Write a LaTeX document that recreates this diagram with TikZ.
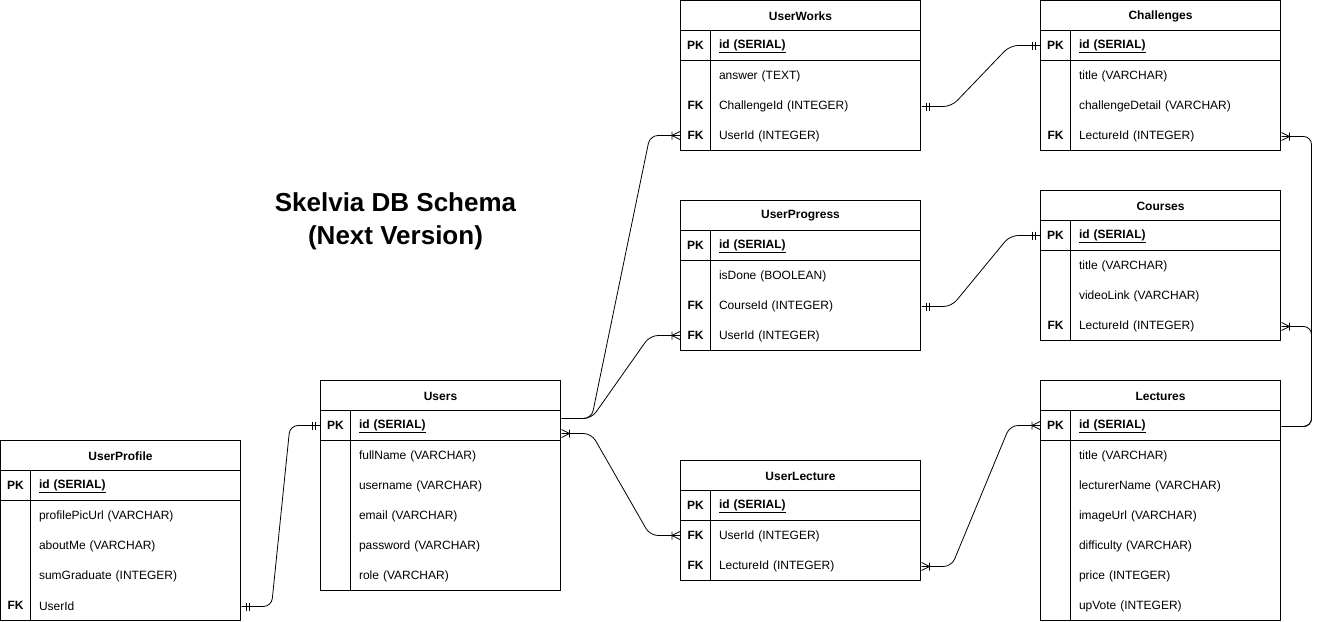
\documentclass[12pt,tikz,border=0pt]{standalone}
\usepackage{fontspec}
\setmainfont{Liberation Sans}
\pgfdeclarelayer{bg}
\pgfsetlayers{bg,main}
\tikzset{
    onemark/.pic={\draw (-5,-4) -- (-5,4) (-8,-4) -- (-8,4);},
    manymark/.pic={\draw (-8,0) -- (0,-4) (-8,0) -- (0,4) (-8,-4) -- (-8,4);}
}

\begin{document}
\begin{tikzpicture}[x=1pt, y=-1pt, line width=1pt,
    head/.style={font=\bfseries, inner sep=0pt, yshift=-0.5pt},
    key/.style={minimum width=30pt, minimum height=30pt, inner sep=0pt, font=\bfseries},
    field/.style={anchor=west, text width=202pt, minimum height=30pt, inner sep=0pt, align=left, yshift=-1pt},
    er/.style={line width=0.8pt, rounded corners=8pt}]
    \useasboundingbox (-0.5,-0.5) rectangle (1318.5,620.5);

    \node (title) [align=center, font=\bfseries\fontsize{26}{33}\selectfont] at (395,221) {Skelvia DB Schema\\(Next Version)};

    % UserWorks
    \draw (680,0) rectangle (920,150) (680,30) -- (920,30) (680,60) -- (920,60) (710,30) -- (710,150);
    \node (uw) [head] at (800,15) {UserWorks};
    \node (uwIdK) [key] at (695,45) {PK};
    \node (uwId) [field] at (718,45) {\underline{\textbf{id (SERIAL)}}};
    \node (uwAnswer) [field] at (718,75) {answer (TEXT)};
    \node (uwChalK) [key] at (695,105) {FK};
    \node (uwChal) [field] at (718,105) {ChallengeId (INTEGER)};
    \node (uwUserK) [key] at (695,135) {FK};
    \node (uwUser) [field] at (718,135) {UserId (INTEGER)};

    % Challenges
    \draw (1040,0) rectangle (1280,150) (1040,30) -- (1280,30) (1040,60) -- (1280,60) (1070,30) -- (1070,150);
    \node (ch) [head] at (1160,15) {Challenges};
    \node (chIdK) [key] at (1055,45) {PK};
    \node (chId) [field] at (1078,45) {\underline{\textbf{id (SERIAL)}}};
    \node (chTitle) [field] at (1078,75) {title (VARCHAR)};
    \node (chDetail) [field] at (1078,105) {challengeDetail (VARCHAR)};
    \node (chLectureK) [key] at (1055,135) {FK};
    \node (chLecture) [field] at (1078,135) {LectureId (INTEGER)};

    % UserProgress
    \draw (680,200) rectangle (920,350) (680,230) -- (920,230) (680,260) -- (920,260) (710,230) -- (710,350);
    \node (up) [head] at (800,215) {UserProgress};
    \node (upIdK) [key] at (695,245) {PK};
    \node (upId) [field] at (718,245) {\underline{\textbf{id (SERIAL)}}};
    \node (upDone) [field] at (718,275) {isDone (BOOLEAN)};
    \node (upCourseK) [key] at (695,305) {FK};
    \node (upCourse) [field] at (718,305) {CourseId (INTEGER)};
    \node (upUserK) [key] at (695,335) {FK};
    \node (upUser) [field] at (718,335) {UserId (INTEGER)};

    % Courses
    \draw (1040,190) rectangle (1280,340) (1040,220) -- (1280,220) (1040,250) -- (1280,250) (1070,220) -- (1070,340);
    \node (co) [head] at (1160,205) {Courses};
    \node (coIdK) [key] at (1055,235) {PK};
    \node (coId) [field] at (1078,235) {\underline{\textbf{id (SERIAL)}}};
    \node (coTitle) [field] at (1078,265) {title (VARCHAR)};
    \node (coVideo) [field] at (1078,295) {videoLink (VARCHAR)};
    \node (coLectureK) [key] at (1055,325) {FK};
    \node (coLecture) [field] at (1078,325) {LectureId (INTEGER)};

    % Users
    \draw (320,380) rectangle (560,590) (320,410) -- (560,410) (320,440) -- (560,440) (350,410) -- (350,590);
    \node (us) [head] at (440,395) {Users};
    \node (usIdK) [key] at (335,425) {PK};
    \node (usId) [field] at (358,425) {\underline{\textbf{id (SERIAL)}}};
    \node (usName) [field] at (358,455) {fullName (VARCHAR)};
    \node (usUser) [field] at (358,485) {username (VARCHAR)};
    \node (usMail) [field] at (358,515) {email (VARCHAR)};
    \node (usPass) [field] at (358,545) {password (VARCHAR)};
    \node (usRole) [field] at (358,575) {role (VARCHAR)};

    % UserProfile
    \draw (0,440) rectangle (240,620) (0,470) -- (240,470) (0,500) -- (240,500) (30,470) -- (30,620);
    \node (pf) [head] at (120,455) {UserProfile};
    \node (pfIdK) [key] at (15,485) {PK};
    \node (pfId) [field] at (38,485) {\underline{\textbf{id (SERIAL)}}};
    \node (pfPic) [field] at (38,515) {profilePicUrl (VARCHAR)};
    \node (pfAbout) [field] at (38,545) {aboutMe (VARCHAR)};
    \node (pfSum) [field] at (38,575) {sumGraduate (INTEGER)};
    \node (pfUserK) [key] at (15,605) {FK};
    \node (pfUser) [field] at (38,605) {UserId};

    % UserLecture
    \draw (680,460) rectangle (920,580) (680,490) -- (920,490) (680,520) -- (920,520) (710,490) -- (710,580);
    \node (ul) [head] at (800,475) {UserLecture};
    \node (ulIdK) [key] at (695,505) {PK};
    \node (ulId) [field] at (718,505) {\underline{\textbf{id (SERIAL)}}};
    \node (ulUserK) [key] at (695,535) {FK};
    \node (ulUser) [field] at (718,535) {UserId (INTEGER)};
    \node (ulLectureK) [key] at (695,565) {FK};
    \node (ulLecture) [field] at (718,565) {LectureId (INTEGER)};

    % Lectures
    \draw (1040,380) rectangle (1280,620) (1040,410) -- (1280,410) (1040,440) -- (1280,440) (1070,410) -- (1070,620);
    \node (le) [head] at (1160,395) {Lectures};
    \node (leIdK) [key] at (1055,425) {PK};
    \node (leId) [field] at (1078,425) {\underline{\textbf{id (SERIAL)}}};
    \node (leTitle) [field] at (1078,455) {title (VARCHAR)};
    \node (leName) [field] at (1078,485) {lecturerName (VARCHAR)};
    \node (leImage) [field] at (1078,515) {imageUrl (VARCHAR)};
    \node (leDiff) [field] at (1078,545) {difficulty (VARCHAR)};
    \node (lePrice) [field] at (1078,575) {price (INTEGER)};
    \node (leVote) [field] at (1078,605) {upVote (INTEGER)};

    \begin{pgfonlayer}{bg}
        \draw[er] ([yshift=8pt]usId.east) -- ++(30,0) -- ([xshift=-30pt]uwUserK.west) -- (uwUserK.west);
        \draw[er] ([yshift=8pt]usId.east) -- ++(30,0) -- ([xshift=-30pt]upUserK.west) -- (upUserK.west);
        \draw[er] ([yshift=-7pt]usId.east) -- ++(30,0) -- ([xshift=-30pt]ulUserK.west) -- (ulUserK.west);
        \draw[er] (pfUser.east) -- ++(30,0) -- ([xshift=-30pt]usIdK.west) -- (usIdK.west);
        \draw[er] (uwChal.east) -- ++(30,0) -- ([xshift=-30pt]chIdK.west) -- (chIdK.west);
        \draw[er] (upCourse.east) -- ++(30,0) -- ([xshift=-30pt]coIdK.west) -- (coIdK.west);
        \draw[er] (ulLecture.east) -- ++(30,0) -- ([xshift=-30pt]leIdK.west) -- (leIdK.west);
        \draw[er] (leId.east) -- ++(30,0) |- (chLecture.east);
        \draw[er] (leId.east) -- ++(30,0) |- (coLecture.east);
    \end{pgfonlayer}

    % end marks
    \pic[line width=0.8pt] at (uwUserK.west) {manymark};
    \pic[line width=0.8pt] at (upUserK.west) {manymark};
    \pic[line width=0.8pt] at (ulUserK.west) {manymark};
    \pic[line width=0.8pt, xscale=-1] at ([yshift=-7pt]usId.east) {manymark};
    \pic[line width=0.8pt, xscale=-1] at (pfUser.east) {onemark};
    \pic[line width=0.8pt] at (usIdK.west) {onemark};
    \pic[line width=0.8pt, xscale=-1] at (uwChal.east) {onemark};
    \pic[line width=0.8pt] at (chIdK.west) {onemark};
    \pic[line width=0.8pt, xscale=-1] at (upCourse.east) {onemark};
    \pic[line width=0.8pt] at (coIdK.west) {onemark};
    \pic[line width=0.8pt, xscale=-1] at (ulLecture.east) {manymark};
    \pic[line width=0.8pt] at (leIdK.west) {manymark};
    \pic[line width=0.8pt, xscale=-1] at (chLecture.east) {manymark};
    \pic[line width=0.8pt, xscale=-1] at (coLecture.east) {manymark};
\end{tikzpicture}
\end{document}
